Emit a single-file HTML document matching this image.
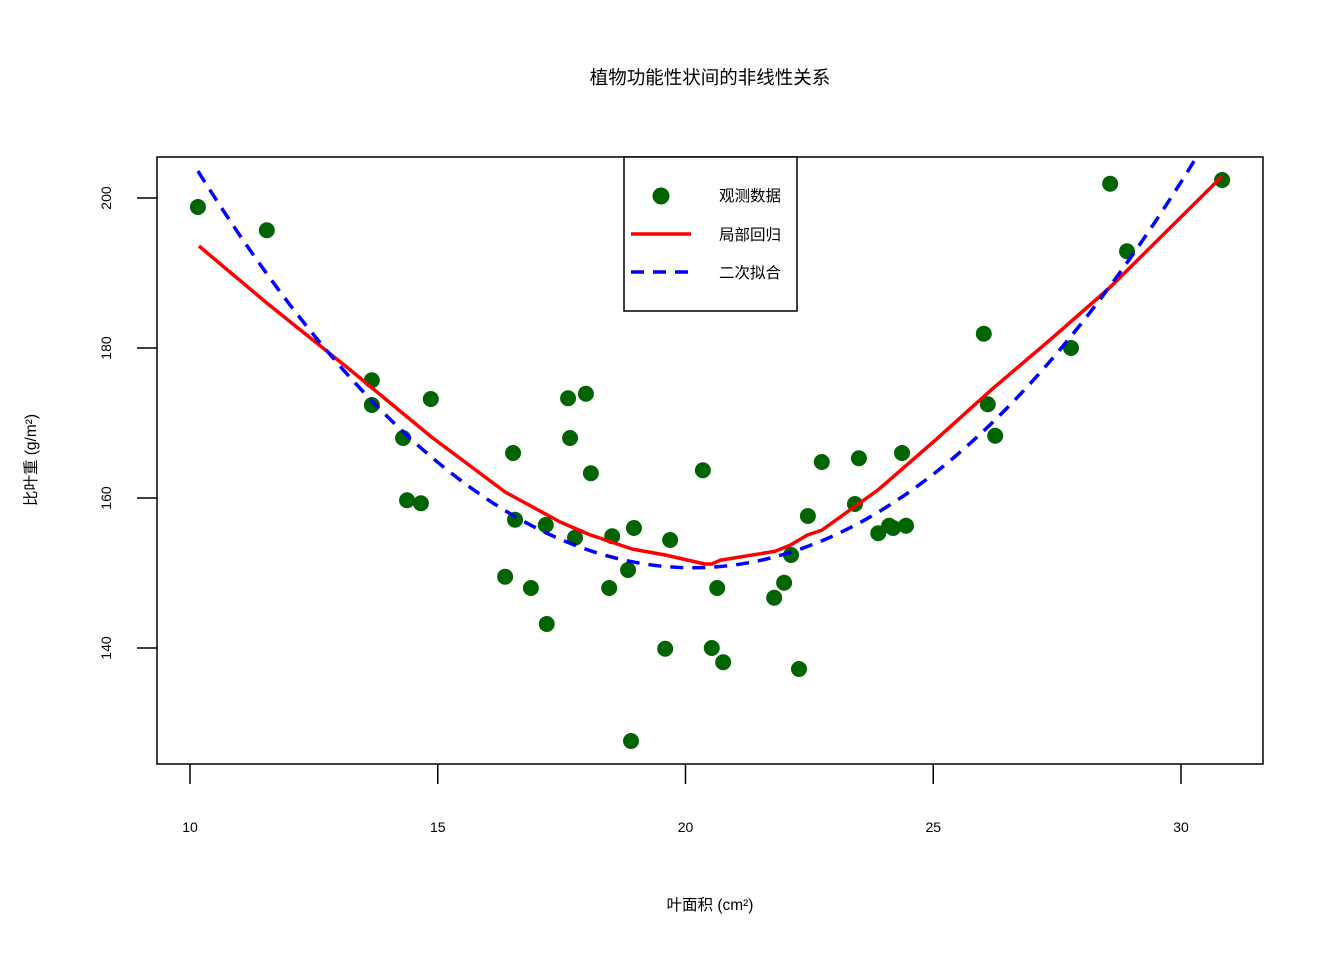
<!DOCTYPE html>
<html><head><meta charset="utf-8"><style>
html,body{margin:0;padding:0;background:#fff;}
svg{display:block;font-family:"Liberation Sans","Noto Sans CJK SC",sans-serif;}
</style></head><body>
<svg id="chart" width="1344" height="960">
<text x="710" y="84" text-anchor="middle" font-size="18.5">植物功能性状间的非线性关系</text>
<rect x="157" y="157" width="1106" height="607" fill="none" stroke="#000" stroke-width="1.5"/>
<text x="710" y="910" text-anchor="middle" font-size="15.5">叶面积 (cm²)</text>
<text x="36" y="460" text-anchor="middle" font-size="15.5" transform="rotate(-90 36 460)">比叶重 (g/m²)</text>
<defs><clipPath id="clip"><rect x="157" y="157" width="1106" height="607"/></clipPath></defs>
<g id="axes"></g>
<g id="marks" clip-path="url(#clip)"></g>
<g>
<rect x="624" y="157" width="173" height="154" fill="#fff" stroke="#000" stroke-width="1.5"/>
<circle cx="661" cy="196" r="8.5" fill="#006400"/>
<text x="719" y="201" font-size="15.5">观测数据</text>
<line x1="631" y1="234" x2="691" y2="234" stroke="#f00" stroke-width="3.5"/>
<text x="719" y="240" font-size="15.5">局部回归</text>
<line x1="631" y1="272" x2="691" y2="272" stroke="#00f" stroke-width="3.5" stroke-dasharray="13,9"/>
<text x="719" y="278" font-size="15.5">二次拟合</text>
</g>
</svg>
<script>
const xTicks=[10,15,20,25,30];
const yTicks=[140,160,180,200];
const ptX=[10.16,11.55,13.67,13.67,14.30,14.38,14.66,14.86,16.36,16.52,16.56,16.88,17.18,17.20,17.63,17.67,17.77,17.99,18.09,18.46,18.52,18.84,18.90,18.96,19.59,19.69,20.35,20.53,20.64,20.76,21.79,21.99,22.13,22.29,22.47,22.75,23.42,23.50,23.89,24.11,24.19,24.37,24.45,26.02,26.10,26.25,27.78,28.57,28.91,30.83];
const ptY=[198.8,195.7,175.7,172.4,168.0,159.7,159.3,173.2,149.5,166.0,157.1,148.0,156.4,143.2,173.3,168.0,154.7,173.9,163.3,148.0,154.9,150.4,127.6,156.0,139.9,154.4,163.7,140.0,148.0,138.1,146.7,148.7,152.4,137.2,157.6,164.8,159.2,165.3,155.3,156.3,156.0,166.0,156.3,181.9,172.5,168.3,180.0,201.9,192.9,202.4];
const loX=[10.18,11.55,13.23,14.88,16.36,17.47,18.07,18.92,19.59,20.39,20.53,20.70,21.81,22.11,22.47,22.75,23.89,25.04,26.15,27.36,28.57,30.83];
const loY=[193.6,186.0,177.1,168.1,160.8,156.8,155.1,153.2,152.4,151.2,151.2,151.7,152.9,153.7,155.1,155.7,161.1,167.7,174.3,181.1,188.1,202.9];
const quadCoef=[0.53,20.15,150.7]; // a, vertex x, vertex y
const quadRange=[10.16,30.83];
const sx=v=>190+(v-10)*49.55;
const sy=v=>198-(v-200)*7.5;
const NS='http://www.w3.org/2000/svg';
const axes=document.getElementById('axes'), marks=document.getElementById('marks');
function mk(tag,attrs,parent){const e=document.createElementNS(NS,tag);for(const k in attrs)e.setAttribute(k,attrs[k]);parent.appendChild(e);return e;}
xTicks.forEach(t=>{
 const l=mk('line',{x1:sx(t),x2:sx(t),y1:764,y2:784,stroke:'#000','stroke-width':1.5},axes);
 
 
 const tx=mk('text',{x:sx(t),y:832,'text-anchor':'middle','font-size':14},axes);tx.textContent=t;
 
 
});
yTicks.forEach(t=>{
 const l=mk('line',{x1:137,x2:157,y1:sy(t),y2:sy(t),stroke:'#000','stroke-width':1.5},axes);
 
 
 const tx=mk('text',{x:111,y:sy(t),'text-anchor':'middle','font-size':14,transform:`rotate(-90 111 ${sy(t)})`},axes);tx.textContent=t;
 
 
});
ptX.forEach((x,i)=>{
 const c=mk('circle',{cx:sx(x),cy:sy(ptY[i]),r:8,fill:'#006400'},marks);
 
 
});
const lp=mk('polyline',{points:loX.map((x,i)=>sx(x)+','+sy(loY[i])).join(' '),fill:'none',stroke:'#f00','stroke-width':3.5,'stroke-linejoin':'round'},marks);


let qp=[];
for(let k=0;k<=100;k++){const x=quadRange[0]+(quadRange[1]-quadRange[0])*k/100;const y=quadCoef[0]*(x-quadCoef[1])**2+quadCoef[2];qp.push(sx(x)+','+sy(y));}
const ql=mk('polyline',{points:qp.join(' '),fill:'none',stroke:'#00f','stroke-width':3.5,'stroke-dasharray':'13,9'},marks);


</script>
</body></html>
